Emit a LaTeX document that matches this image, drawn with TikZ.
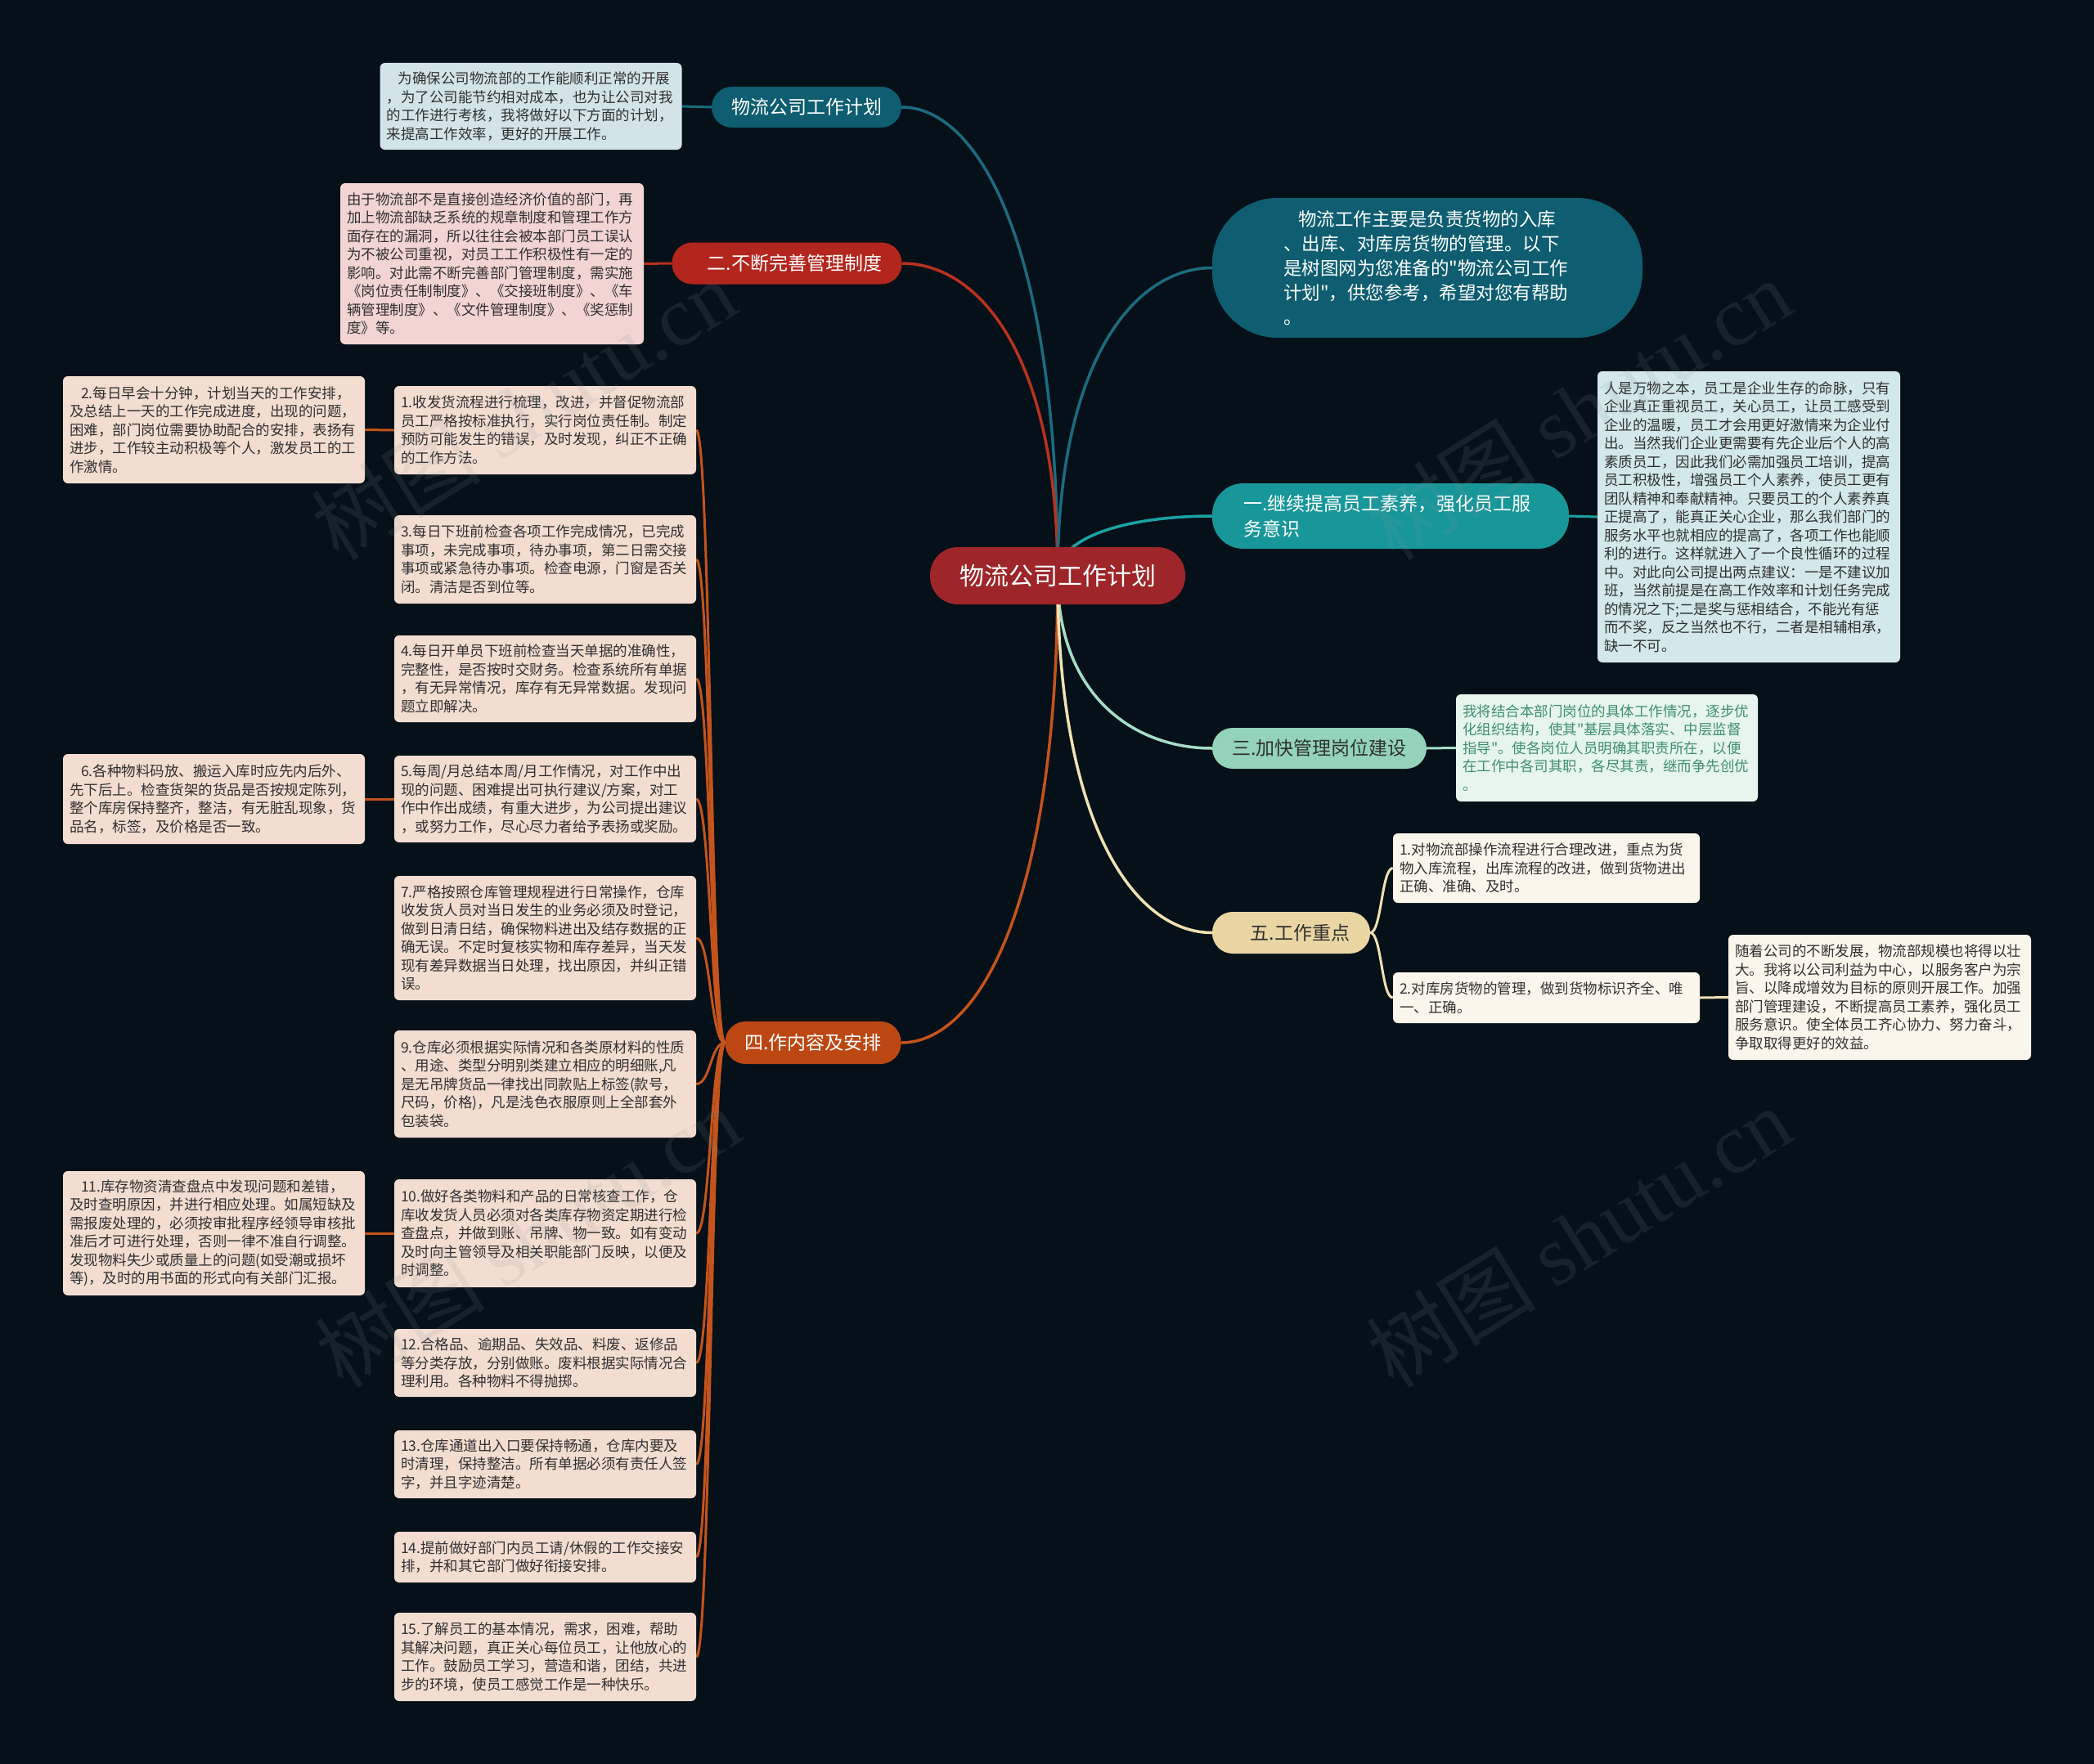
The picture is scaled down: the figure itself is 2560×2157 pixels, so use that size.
\documentclass[tikz,border=0pt]{standalone}
\usepackage{fontspec}
\setmainfont{Noto Sans CJK SC}[Ligatures=TeXOff]
\newfontfamily\wmfont{Liberation Serif}
\usetikzlibrary{calc}
\pgfdeclarelayer{bg}
\pgfsetlayers{bg,main}
\definecolor{bgc}{HTML}{061018}
\definecolor{rootfill}{HTML}{9E2529}
\definecolor{tealdark}{HTML}{0E5D70}
\definecolor{redb}{HTML}{B3261E}
\definecolor{orangeb}{HTML}{BD4713}
\definecolor{tealb}{HTML}{17979A}
\definecolor{mintb}{HTML}{93D3B9}
\definecolor{tanb}{HTML}{E9D6A3}
\definecolor{nzero}{HTML}{D3E4E8}
\definecolor{ntwo}{HTML}{F2D4D3}
\definecolor{cfill}{HTML}{F3DDD1}
\definecolor{nonefill}{HTML}{D2E8EA}
\definecolor{nthree}{HTML}{E7F5EF}
\definecolor{nthreetext}{HTML}{3E8F6F}
\definecolor{nfive}{HTML}{FAF6EC}
\definecolor{notetext}{HTML}{303030}
\definecolor{etealdark}{HTML}{1C6B80}
\definecolor{ered}{HTML}{B8321F}
\definecolor{eorange}{HTML}{C4531C}
\definecolor{eteal}{HTML}{1AA2A4}
\definecolor{emint}{HTML}{A5DDC7}
\definecolor{etan}{HTML}{F0E1B3}
\definecolor{wmc}{HTML}{8A959C}
\tikzset{
  rootedge/.style={to path={.. controls ($(\tikztostart)!0.7!(\tikztostart |- \tikztotarget)$) and ($(\tikztotarget)!0.5!(\tikztotarget -| \tikztostart)$) .. (\tikztotarget)}},
  sedge/.style={to path={.. controls ($(\tikztostart)!0.5!(\tikztostart -| \tikztotarget)$) and ($(\tikztotarget)!0.5!(\tikztotarget -| \tikztostart)$) .. (\tikztotarget)}},
  mainline/.style={line width=3.5pt},
  subline/.style={line width=3pt},
  rootbox/.style={fill=rootfill, text=white, rounded corners=34pt, minimum width=312pt, minimum height=70pt, inner sep=0pt, font=\fontsize{30pt}{36pt}\selectfont},
  branchbox/.style={rounded corners=25pt, minimum height=50pt, inner sep=0pt, font=\fontsize{23pt}{31pt}\selectfont},
  notebox/.style={rounded corners=6pt, inner xsep=8pt, inner ysep=0pt, text width=353pt, align=left, text=notetext, font=\fontsize{17.5pt}{22.5pt}\selectfont},
  wmark/.style={rotate=32, text=wmc, opacity=0.13, font=\fontsize{104pt}{110pt}\selectfont}
}
\begin{document}
\begin{tikzpicture}[x=1pt,y=-1pt]
\useasboundingbox (0,0) rectangle (2560,2157);
\begin{pgfonlayer}{bg}
\fill[bgc] (0,0) rectangle (2560,2157);
\end{pgfonlayer}

% root
\node[rootbox] (root) at (1293,704) {物流公司工作计划};

% left branches
\node[branchbox, fill=tealdark, text=white, minimum width=232pt] (b0) at (986,131) {物流公司工作计划};
\node[branchbox, fill=redb, text=white, minimum width=281pt, minimum height=51pt] (b2) at (962,322) {\hspace*{19pt}二.不断完善管理制度};
\node[branchbox, fill=orangeb, text=white, minimum width=215pt, minimum height=52pt] (b4) at (994,1275) {四.作内容及安排};

% right branches
\node[fill=tealdark, text=white, rounded corners=80pt, minimum height=171pt, inner xsep=87pt, inner ysep=0pt, text width=352pt, align=left, font=\fontsize{22.5pt}{30pt}\selectfont] (intro) at (1745,327.5) {\hspace*{18pt}物流工作主要是负责货物的入库\\、出库、对库房货物的管理。以下\\是树图网为您准备的"物流公司工作\\计划"，供您参考，希望对您有帮助\\。};
\node[branchbox, fill=tealb, text=white, minimum height=80pt, rounded corners=38pt, inner xsep=38pt, text width=360pt, align=left] (b1) at (1700,631) {一.继续提高员工素养，强化员工服\\务意识};
\node[branchbox, fill=mintb, text=notetext, minimum width=262pt] (b3) at (1613,915) {三.加快管理岗位建设};
\node[branchbox, fill=tanb, text=notetext, minimum width=193pt, minimum height=51pt] (b5) at (1578.5,1140.5) {\hspace*{22pt}五.工作重点};

% notes of top-left branches
\node[notebox, fill=nzero, minimum height=106pt] (n0) at (649,130) {\hspace*{14pt}为确保公司物流部的工作能顺利正常的开展\\，为了公司能节约相对成本，也为让公司对我\\的工作进行考核，我将做好以下方面的计划，\\来提高工作效率，更好的开展工作。};
\node[notebox, fill=ntwo, minimum height=197pt, text width=355pt] (n2) at (601.5,322.5) {由于物流部不是直接创造经济价值的部门，再\\加上物流部缺乏系统的规章制度和管理工作方\\面存在的漏洞，所以往往会被本部门员工误认\\为不被公司重视，对员工工作积极性有一定的\\影响。对此需不断完善部门管理制度，需实施\\《岗位责任制制度》、《交接班制度》、《车\\辆管理制度》、《文件管理制度》、《奖惩制\\度》等。};

% right notes
\node[notebox, fill=nonefill, minimum height=356pt, text width=354pt] (n1) at (2138,632) {人是万物之本，员工是企业生存的命脉，只有\\企业真正重视员工，关心员工，让员工感受到\\企业的温暖，员工才会用更好激情来为企业付\\出。当然我们企业更需要有先企业后个人的高\\素质员工，因此我们必需加强员工培训，提高\\员工积极性，增强员工个人素养，使员工更有\\团队精神和奉献精神。只要员工的个人素养真\\正提高了，能真正关心企业，那么我们部门的\\服务水平也就相应的提高了，各项工作也能顺\\利的进行。这样就进入了一个良性循环的过程\\中。对此向公司提出两点建议：一是不建议加\\班，当然前提是在高工作效率和计划任务完成\\的情况之下;二是奖与惩相结合，不能光有惩\\而不奖，反之当然也不行，二者是相辅相承，\\缺一不可。};
\node[notebox, fill=nthree, text=nthreetext, minimum height=131pt] (n3) at (1964.5,914.5) {我将结合本部门岗位的具体工作情况，逐步优\\化组织结构，使其"基层具体落实、中层监督\\指导"。使各岗位人员明确其职责所在，以便\\在工作中各司其职，各尽其责，继而争先创优\\。};
\node[notebox, fill=nfive, minimum height=85pt, text width=359pt] (n5a) at (1890.5,1061.5) {1.对物流部操作流程进行合理改进，重点为货\\物入库流程，出库流程的改进，做到货物进出\\正确、准确、及时。};
\node[notebox, fill=nfive, minimum height=62pt, text width=359pt] (n5b) at (1890.5,1220) {2.对库房货物的管理，做到货物标识齐全、唯\\一、正确。};
\node[notebox, fill=nfive, minimum height=153pt, text width=354pt] (n5c) at (2298,1219.5) {随着公司的不断发展，物流部规模也将得以壮\\大。我将以公司利益为中心，以服务客户为宗\\旨、以降成增效为目标的原则开展工作。加强\\部门管理建设，不断提高员工素养，强化员工\\服务意识。使全体员工齐心协力、努力奋斗，\\争取取得更好的效益。};

% middle column
\node[notebox, fill=cfill, minimum height=108pt] (c1) at (666.5,526) {1.收发货流程进行梳理，改进，并督促物流部\\员工严格按标准执行，实行岗位责任制。制定\\预防可能发生的错误，及时发现，纠正不正确\\的工作方法。};
\node[notebox, fill=cfill, minimum height=108pt] (c3) at (666.5,684) {3.每日下班前检查各项工作完成情况，已完成\\事项，未完成事项，待办事项，第二日需交接\\事项或紧急待办事项。检查电源，门窗是否关\\闭。清洁是否到位等。};
\node[notebox, fill=cfill, minimum height=106pt] (c4) at (666.5,830) {4.每日开单员下班前检查当天单据的准确性，\\完整性，是否按时交财务。检查系统所有单据\\，有无异常情况，库存有无异常数据。发现问\\题立即解决。};
\node[notebox, fill=cfill, minimum height=106pt] (c5) at (666.5,977) {5.每周/月总结本周/月工作情况，对工作中出\\现的问题、困难提出可执行建议/方案，对工\\作中作出成绩，有重大进步，为公司提出建议\\，或努力工作，尽心尽力者给予表扬或奖励。};
\node[notebox, fill=cfill, minimum height=152pt] (c7) at (666.5,1147) {7.严格按照仓库管理规程进行日常操作，仓库\\收发货人员对当日发生的业务必须及时登记，\\做到日清日结，确保物料进出及结存数据的正\\确无误。不定时复核实物和库存差异，当天发\\现有差异数据当日处理，找出原因，并纠正错\\误。};
\node[notebox, fill=cfill, minimum height=131pt] (c9) at (666.5,1325.5) {9.仓库必须根据实际情况和各类原材料的性质\\、用途、类型分明别类建立相应的明细账,凡\\是无吊牌货品一律找出同款贴上标签(款号，\\尺码，价格)，凡是浅色衣服原则上全部套外\\包装袋。};
\node[notebox, fill=cfill, minimum height=132pt] (c10) at (666.5,1508) {10.做好各类物料和产品的日常核查工作，仓\\库收发货人员必须对各类库存物资定期进行检\\查盘点，并做到账、吊牌、物一致。如有变动\\及时向主管领导及相关职能部门反映，以便及\\时调整。};
\node[notebox, fill=cfill, minimum height=83pt] (c12) at (666.5,1666.5) {12.合格品、逾期品、失效品、料废、返修品\\等分类存放，分别做账。废料根据实际情况合\\理利用。各种物料不得抛掷。};
\node[notebox, fill=cfill, minimum height=83pt] (c13) at (666.5,1790.5) {13.仓库通道出入口要保持畅通，仓库内要及\\时清理，保持整洁。所有单据必须有责任人签\\字，并且字迹清楚。};
\node[notebox, fill=cfill, minimum height=62pt] (c14) at (666.5,1904) {14.提前做好部门内员工请/休假的工作交接安\\排，并和其它部门做好衔接安排。};
\node[notebox, fill=cfill, minimum height=108pt] (c15) at (666.5,2026) {15.了解员工的基本情况，需求，困难，帮助\\其解决问题，真正关心每位员工，让他放心的\\工作。鼓励员工学习，营造和谐，团结，共进\\步的环境，使员工感觉工作是一种快乐。};

% left column
\node[notebox, fill=cfill, minimum height=131pt] (c2) at (261.5,525.5) {\hspace*{14pt}2.每日早会十分钟，计划当天的工作安排，\\及总结上一天的工作完成进度，出现的问题，\\困难，部门岗位需要协助配合的安排，表扬有\\进步，工作较主动积极等个人，激发员工的工\\作激情。};
\node[notebox, fill=cfill, minimum height=110pt] (c6) at (261.5,977) {\hspace*{14pt}6.各种物料码放、搬运入库时应先内后外、\\先下后上。检查货架的货品是否按规定陈列，\\整个库房保持整齐，整洁，有无脏乱现象，货\\品名，标签，及价格是否一致。};
\node[notebox, fill=cfill, minimum height=152pt] (c11) at (261.5,1508) {\hspace*{14pt}11.库存物资清查盘点中发现问题和差错，\\及时查明原因，并进行相应处理。如属短缺及\\需报废处理的，必须按审批程序经领导审核批\\准后才可进行处理，否则一律不准自行调整。\\发现物料失少或质量上的问题(如受潮或损坏\\等)，及时的用书面的形式向有关部门汇报。};

% connectors
\begin{pgfonlayer}{bg}
\draw[mainline, etealdark] (root.center) to[rootedge] (b0.east);
\draw[mainline, ered] (root.center) to[rootedge] (b2.east);
\draw[mainline, eorange] (root.center) to[rootedge] (b4.east);
\draw[mainline, etealdark] (root.center) to[rootedge] (intro.west);
\draw[mainline, eteal] (root.center) to[rootedge] (b1.west);
\draw[mainline, emint] (root.center) to[rootedge] (b3.west);
\draw[mainline, etan] (root.center) to[rootedge] (b5.west);
\draw[subline, etealdark] (b0.west) -- (n0.east);
\draw[subline, ered] (b2.west) -- (n2.east);
\draw[subline, eteal] (b1.east) -- (n1.west);
\draw[subline, emint] (b3.east) -- (n3.west);
\draw[subline, etan] (b5.east) to[sedge] (n5a.west);
\draw[subline, etan] (b5.east) to[sedge] (n5b.west);
\draw[subline, etan] (n5b.east) -- (n5c.west);
\foreach \c in {c1,c3,c4,c5,c7,c9,c10,c12,c13,c14,c15}
  \draw[subline, eorange] (b4.west) to[sedge] (\c.east);
\draw[subline, eorange] (c1.west) -- (c2.east);
\draw[subline, eorange] (c5.west) -- (c6.east);
\draw[subline, eorange] (c10.west) -- (c11.east);
\end{pgfonlayer}

% watermarks
\node[wmark] (wm1) at (640,500) {树图 {\wmfont shutu.cn}};
\node[wmark] (wm2) at (645,1512) {树图 {\wmfont shutu.cn}};
\node[wmark] (wm3) at (1930,500) {树图 {\wmfont shutu.cn}};
\node[wmark] (wm4) at (1930,1512) {树图 {\wmfont shutu.cn}};
\end{tikzpicture}
\end{document}
